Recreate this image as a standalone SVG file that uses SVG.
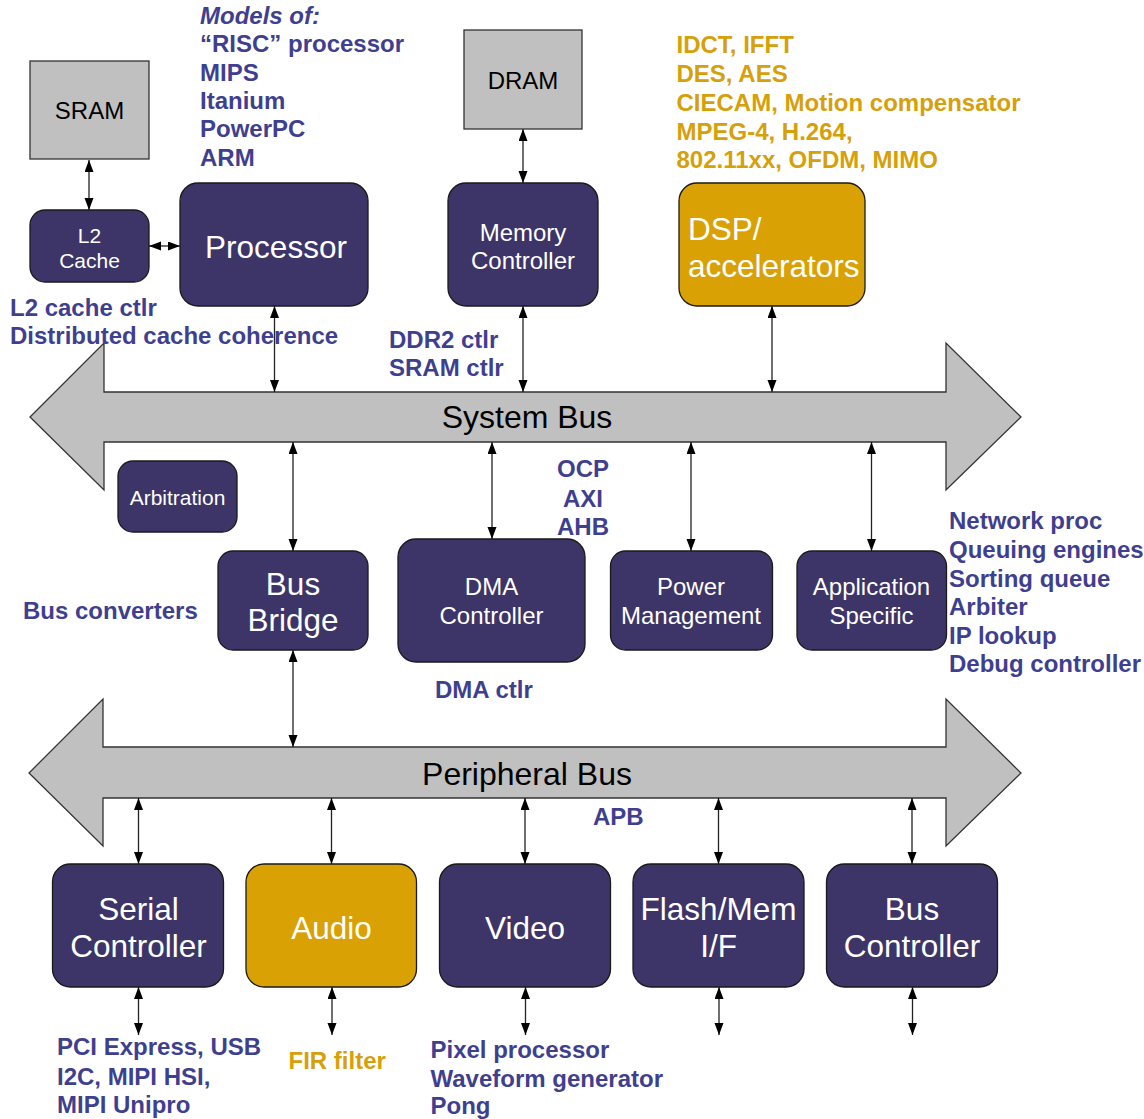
<svg xmlns="http://www.w3.org/2000/svg" width="1144" height="1119" viewBox="0 0 1144 1119">
  <defs>
    <marker id="ah" markerUnits="userSpaceOnUse" markerWidth="13" markerHeight="10" refX="12" refY="4.5" orient="auto-start-reverse">
      <path d="M0,0 L12,4.5 L0,9 z" fill="#000"/>
    </marker>
    <style>
      .blk { fill: #3d3468; stroke: #1a1a1a; stroke-width: 1.3; }
      .gold { fill: #d9a104; stroke: #1a1a1a; stroke-width: 1.3; }
      .mem { fill: #c0c0c0; stroke: #333; stroke-width: 1.3; }
      .bus { fill: #c0c0c0; stroke: #333; stroke-width: 1.3; }
      .wt { fill: #fff; font-family: "Liberation Sans", Arial, sans-serif; text-anchor: middle; }
      .wl { fill: #fff; font-family: "Liberation Sans", Arial, sans-serif; text-anchor: start; }
      .bk { fill: #000; font-family: "Liberation Sans", Arial, sans-serif; text-anchor: middle; }
      .lb { fill: #3f3f90; font-family: "Liberation Sans", Arial, sans-serif; font-weight: bold; font-size: 24px; }
      .lbc { fill: #3f3f90; font-family: "Liberation Sans", Arial, sans-serif; font-weight: bold; font-size: 24px; text-anchor: middle; }
      .lg { fill: #d6a00a; font-family: "Liberation Sans", Arial, sans-serif; font-weight: bold; font-size: 24px; }
      .cn line { stroke: #222; stroke-width: 1.3; marker-start: url(#ah); marker-end: url(#ah); }
    </style>
  </defs>
  <rect width="1144" height="1119" fill="#fff"/>

  <!-- buses -->
  <g id="system-bus">
    <polygon class="bus" points="104,392 946,392 946,343 1021,417 946,490 946,442 104,442 104,490 30,417 104,343"/>
    <text class="bk" x="527" y="428" font-size="32">System Bus</text>
  </g>
  <g id="peripheral-bus">
    <polygon class="bus" points="103,747 946,747 946,699 1021,773 946,846 946,798 103,798 103,846 29,773 103,699"/>
    <text class="bk" x="527" y="785" font-size="32">Peripheral Bus</text>
  </g>

  <!-- connectors -->
  <g id="connectors" class="cn">
    <line x1="89" y1="160" x2="89" y2="210"/>
    <line x1="149" y1="246" x2="180" y2="246"/>
    <line x1="274.5" y1="306" x2="274.5" y2="392"/>
    <line x1="523" y1="129" x2="523" y2="183"/>
    <line x1="523" y1="306" x2="523" y2="392"/>
    <line x1="772" y1="306" x2="772" y2="392"/>
    <line x1="293" y1="442" x2="293" y2="551"/>
    <line x1="492" y1="442" x2="492" y2="539"/>
    <line x1="691" y1="442" x2="691" y2="551"/>
    <line x1="871.5" y1="442" x2="871.5" y2="551"/>
    <line x1="293" y1="650" x2="293" y2="747"/>
    <line x1="138.5" y1="798" x2="138.5" y2="864"/>
    <line x1="331.5" y1="798" x2="331.5" y2="864"/>
    <line x1="525" y1="798" x2="525" y2="864"/>
    <line x1="718.5" y1="798" x2="718.5" y2="864"/>
    <line x1="912" y1="798" x2="912" y2="864"/>
    <line x1="138.5" y1="987" x2="138.5" y2="1035"/>
    <line x1="332" y1="987" x2="332" y2="1035"/>
    <line x1="525.5" y1="987" x2="525.5" y2="1035"/>
    <line x1="719" y1="987" x2="719" y2="1035"/>
    <line x1="912.5" y1="987" x2="912.5" y2="1035"/>
  </g>

  <!-- memories -->
  <g id="sram">
    <rect class="mem" x="30" y="61" width="119" height="98"/>
    <text class="bk" x="89.5" y="119" font-size="24">SRAM</text>
  </g>
  <g id="dram">
    <rect class="mem" x="464" y="30" width="118" height="99"/>
    <text class="bk" x="523" y="89" font-size="24">DRAM</text>
  </g>

  <!-- top row -->
  <g id="l2-cache">
    <rect class="blk" x="30" y="210" width="119" height="72" rx="15"/>
    <text class="wt" x="89.5" y="243" font-size="21">L2</text>
    <text class="wt" x="89.5" y="268" font-size="21">Cache</text>
  </g>
  <g id="processor">
    <rect class="blk" x="180" y="183" width="188" height="123" rx="18"/>
    <text class="wt" x="276" y="258" font-size="31.5">Processor</text>
  </g>
  <g id="memory-controller">
    <rect class="blk" x="448" y="183" width="150" height="123" rx="18"/>
    <text class="wt" x="523" y="240.5" font-size="24">Memory</text>
    <text class="wt" x="523" y="268.5" font-size="24">Controller</text>
  </g>
  <g id="dsp">
    <rect class="gold" x="679" y="183" width="186" height="123" rx="18"/>
    <text class="wl" x="688" y="239.5" font-size="31.5">DSP/</text>
    <text class="wl" x="688" y="277" font-size="31.5">accelerators</text>
  </g>

  <!-- middle row -->
  <g id="arbitration">
    <rect class="blk" x="118" y="461" width="119" height="71" rx="15"/>
    <text class="wt" x="177.5" y="505" font-size="21">Arbitration</text>
  </g>
  <g id="bus-bridge">
    <rect class="blk" x="218" y="551" width="150" height="99" rx="15"/>
    <text class="wt" x="293" y="595" font-size="31.5">Bus</text>
    <text class="wt" x="293" y="631" font-size="31.5">Bridge</text>
  </g>
  <g id="dma-controller">
    <rect class="blk" x="398" y="539" width="187" height="123" rx="18"/>
    <text class="wt" x="491.5" y="595" font-size="24">DMA</text>
    <text class="wt" x="491.5" y="623.5" font-size="24">Controller</text>
  </g>
  <g id="power-management">
    <rect class="blk" x="610.5" y="551" width="162" height="99" rx="15"/>
    <text class="wt" x="691" y="595" font-size="24">Power</text>
    <text class="wt" x="691" y="623.5" font-size="24">Management</text>
  </g>
  <g id="application-specific">
    <rect class="blk" x="797" y="551" width="149.5" height="99" rx="15"/>
    <text class="wt" x="871.5" y="595" font-size="24">Application</text>
    <text class="wt" x="871.5" y="623.5" font-size="24">Specific</text>
  </g>

  <!-- peripherals -->
  <g id="serial-controller">
    <rect class="blk" x="52.5" y="864" width="171" height="123" rx="18"/>
    <text class="wt" x="138.5" y="919.5" font-size="31.5">Serial</text>
    <text class="wt" x="138.5" y="957" font-size="31.5">Controller</text>
  </g>
  <g id="audio">
    <rect class="gold" x="246" y="864" width="170.5" height="123" rx="18"/>
    <text class="wt" x="331.5" y="938.5" font-size="31.5">Audio</text>
  </g>
  <g id="video">
    <rect class="blk" x="439.5" y="864" width="171" height="123" rx="18"/>
    <text class="wt" x="525" y="938.5" font-size="31.5">Video</text>
  </g>
  <g id="flash-mem-if">
    <rect class="blk" x="633" y="864" width="171" height="123" rx="18"/>
    <text class="wt" x="718.5" y="920" font-size="31.5">Flash/Mem</text>
    <text class="wt" x="718.5" y="957" font-size="31.5">I/F</text>
  </g>
  <g id="bus-controller">
    <rect class="blk" x="826.5" y="864" width="171" height="123" rx="18"/>
    <text class="wt" x="912" y="919.5" font-size="31.5">Bus</text>
    <text class="wt" x="912" y="957" font-size="31.5">Controller</text>
  </g>

  <!-- annotations -->
  <g id="notes">
    <text class="lb" x="200" y="23.5" font-style="italic">Models of:</text>
    <text class="lb" x="200" y="52.3">“RISC” processor</text>
    <text class="lb" x="200" y="80.7">MIPS</text>
    <text class="lb" x="200" y="109">Itanium</text>
    <text class="lb" x="200" y="137.3">PowerPC</text>
    <text class="lb" x="200" y="165.7">ARM</text>

    <text class="lg" x="676.5" y="53.3">IDCT, IFFT</text>
    <text class="lg" x="676.5" y="82.3">DES, AES</text>
    <text class="lg" x="676.5" y="111">CIECAM, Motion compensator</text>
    <text class="lg" x="676.5" y="139.5">MPEG-4, H.264,</text>
    <text class="lg" x="676.5" y="168.3">802.11xx, OFDM, MIMO</text>

    <text class="lb" x="10" y="316">L2 cache ctlr</text>
    <text class="lb" x="10" y="344">Distributed cache coherence</text>

    <text class="lb" x="389" y="348.3">DDR2 ctlr</text>
    <text class="lb" x="389" y="376">SRAM ctlr</text>

    <text class="lbc" x="583" y="477">OCP</text>
    <text class="lbc" x="583" y="506.5">AXI</text>
    <text class="lbc" x="583" y="535">AHB</text>

    <text class="lb" x="949" y="529">Network proc</text>
    <text class="lb" x="949" y="558">Queuing engines</text>
    <text class="lb" x="949" y="586.5">Sorting queue</text>
    <text class="lb" x="949" y="615">Arbiter</text>
    <text class="lb" x="949" y="643.5">IP lookup</text>
    <text class="lb" x="949" y="672">Debug controller</text>

    <text class="lb" x="23" y="619">Bus converters</text>
    <text class="lb" x="435" y="698">DMA ctlr</text>
    <text class="lb" x="593" y="825">APB</text>

    <text class="lb" x="57" y="1055">PCI Express, USB</text>
    <text class="lb" x="57" y="1085">I2C, MIPI HSI,</text>
    <text class="lb" x="57" y="1113">MIPI Unipro</text>

    <text class="lg" x="288.5" y="1069">FIR filter</text>

    <text class="lb" x="430.5" y="1058">Pixel processor</text>
    <text class="lb" x="430.5" y="1087">Waveform generator</text>
    <text class="lb" x="430.5" y="1114">Pong</text>
  </g>
</svg>
